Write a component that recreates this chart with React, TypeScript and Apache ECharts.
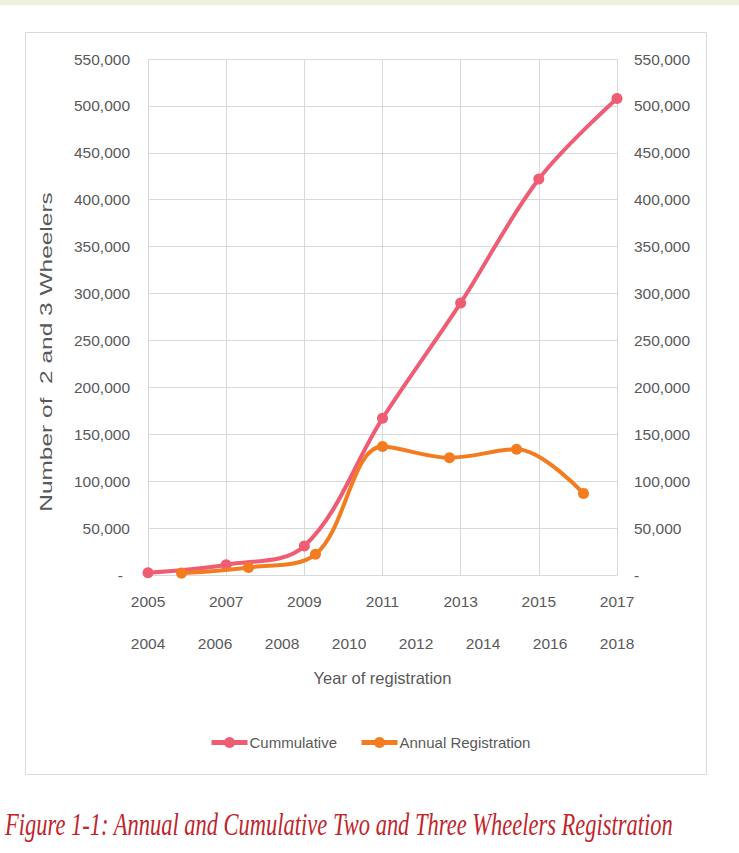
import React, { useEffect, useRef } from "react";
import * as echarts from "echarts";

const cumYears = ["2005", "2007", "2009", "2011", "2013", "2015", "2017"];
const cumValues = [2500, 11000, 31000, 167000, 290000, 422000, 508000];

const allYears = [
  "2004", "2005", "2006", "2007", "2008", "2009", "2010", "2011",
  "2012", "2013", "2014", "2015", "2016", "2017", "2018",
];
const annualYears = ["2005", "2007", "2009", "2011", "2013", "2015", "2017"];
const annualValues = [2000, 8000, 22000, 137000, 125000, 134000, 87000];

const seriesNames = ["Cummulative", "Annual Registration"];
const yAxisTitle = "Number of  2 and 3 Wheelers";
const xAxisTitle = "Year of registration";
const caption =
  "Figure 1-1: Annual and Cumulative Two and Three Wheelers Registration";

const SANS = "'Liberation Sans', Arial, sans-serif";
const GRAY = "#595959";
const GRID = "#d9d9d9";
const PINK = "#EF5D75";
const ORANGE = "#F47C20";

const fmt = (v: number) => v.toLocaleString("en-US");

export default function App() {
  const ref = useRef<HTMLDivElement>(null);
  useEffect(() => {
    if (!ref.current) return;
    const chart = echarts.init(ref.current, null, { renderer: "svg" });
    const labelStyle = { color: GRAY, fontFamily: SANS, fontSize: 15.5 };
    chart.setOption({
      animation: false,
      backgroundColor: "#ffffff",
      grid: { left: 148, right: 122, top: 59, bottom: 278, containLabel: false },
      legend: {
        data: seriesNames,
        left: 204,
        top: 730,
        itemWidth: 36,
        itemHeight: 14,
        itemGap: 22,
        lineStyle: { width: 5 },
        textStyle: { ...labelStyle, fontSize: 15, padding: [0, 0, 0, -3] },
      },
      xAxis: [
        {
          type: "category",
          data: cumYears,
          boundaryGap: false,
          position: "bottom",
          axisLine: { show: true, lineStyle: { color: GRID, width: 1 } },
          axisTick: { show: false },
          axisLabel: { ...labelStyle, margin: 18 },
          splitLine: { show: true, lineStyle: { color: GRID, width: 1 } },
        },
        {
          type: "category",
          data: allYears,
          boundaryGap: false,
          position: "bottom",
          offset: 42,
          axisLine: { show: false },
          axisTick: { show: false },
          axisLabel: { ...labelStyle, margin: 18, interval: 1 },
          splitLine: { show: false },
          name: xAxisTitle,
          nameLocation: "middle",
          nameGap: 52,
          nameTextStyle: { color: GRAY, fontFamily: SANS, fontSize: 16.5 },
        },
      ],
      yAxis: [
        {
          type: "value",
          min: 0,
          max: 550000,
          interval: 50000,
          position: "left",
          axisLine: { show: false },
          axisTick: { show: false },
          splitLine: { show: true, lineStyle: { color: GRID, width: 1 } },
          axisLabel: {
            ...labelStyle,
            margin: 18,
            formatter: (v: number) => (v === 0 ? "{z|-}" : fmt(v)),
            rich: {
              z: { color: GRAY, fontFamily: SANS, fontSize: 15.5, padding: [0, 7, 0, 0] },
            },
          },
        },
        {
          type: "value",
          min: 0,
          max: 550000,
          interval: 50000,
          position: "right",
          axisLine: { show: false },
          axisTick: { show: false },
          splitLine: { show: false },
          axisLabel: {
            ...labelStyle,
            margin: 17,
            formatter: (v: number) => (v === 0 ? "-" : fmt(v)),
          },
        },
      ],
      series: [
        {
          name: seriesNames[0],
          type: "line",
          xAxisIndex: 0,
          yAxisIndex: 0,
          data: cumValues,
          smooth: 0.35,
          symbol: "circle",
          symbolSize: 11,
          lineStyle: { color: PINK, width: 4 },
          itemStyle: { color: PINK },
          z: 3,
        },
        {
          name: seriesNames[1],
          type: "line",
          xAxisIndex: 1,
          yAxisIndex: 1,
          data: annualYears.map((y, i) => [y, annualValues[i]]),
          smooth: 0.35,
          symbol: "circle",
          symbolSize: 11,
          lineStyle: { color: ORANGE, width: 4 },
          itemStyle: { color: ORANGE },
          z: 4,
        },
      ],
      graphic: [
        {
          type: "rect",
          shape: { x: 0, y: 0, width: 739, height: 5 },
          style: { fill: "#eef1dc" },
          silent: true,
        },
        {
          type: "rect",
          shape: { x: 25.5, y: 32.5, width: 681, height: 742 },
          style: { fill: "none", stroke: GRID, lineWidth: 1 },
          silent: true,
          z: -1,
        },
        {
          type: "text",
          x: 46,
          y: 352,
          rotation: Math.PI / 2,
          scaleX: 1.44,
          style: {
            text: yAxisTitle,
            fill: GRAY,
            font: "17px 'Liberation Sans', Arial, sans-serif",
            textAlign: "center",
            textVerticalAlign: "middle",
          },
          silent: true,
        },
        {
          type: "text",
          x: 5,
          y: 825,
          scaleY: 1.4,
          style: {
            text: caption,
            fill: "#C0252C",
            font: "italic 22.5px 'Liberation Serif', 'DejaVu Serif', serif",
            textAlign: "left",
            textVerticalAlign: "middle",
          },
          silent: true,
        },
      ],
    });
    return () => chart.dispose();
  }, []);
  return (
    <div
      ref={ref}
      style={{ position: "fixed", left: 0, top: 0, width: 739, height: 853 }}
    />
  );
}
